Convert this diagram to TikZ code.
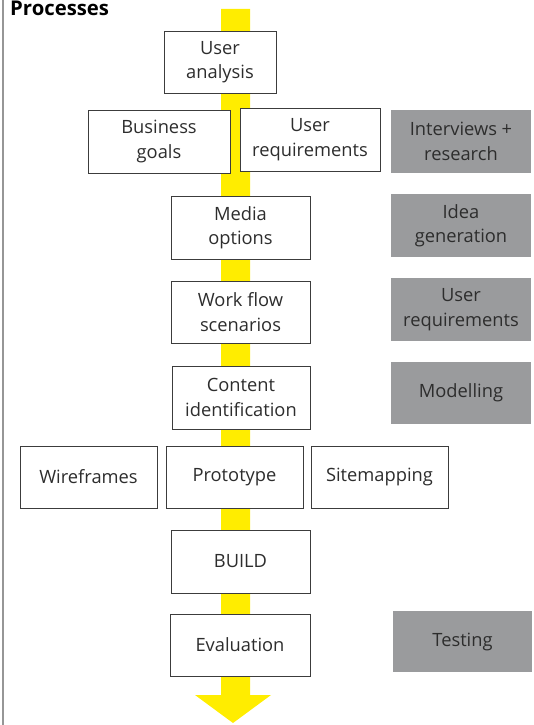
\documentclass[tikz,border=0pt]{standalone}
\usepackage{fontspec}
\setmainfont{Open Sans}
\definecolor{arrowyellow}{RGB}{255,237,0}
\definecolor{boxgrey}{RGB}{154,155,157}
\definecolor{edgegrey}{RGB}{60,60,60}
\definecolor{textgrey}{RGB}{45,45,45}
\definecolor{frameline}{RGB}{150,150,150}
\tikzset{
  stepbox/.style={draw=edgegrey, line width=0.9pt, fill=white, text=textgrey,
    align=center, inner sep=0pt, font=\fontsize{18.3}{24.5}\selectfont},
  greybox/.style={fill=boxgrey, draw=none, text=textgrey,
    align=center, inner sep=0pt, font=\fontsize{18.3}{24.5}\selectfont},
}
\newcommand{\boxat}[6]{\node[#1, minimum width=#4pt, minimum height=#5pt] (#2) at (#3) {#6};}
\begin{document}
\begin{tikzpicture}[x=1pt,y=-1pt]
\useasboundingbox (0,0) rectangle (533,725);
% frame line
\draw[frameline, line width=2pt] (3,0) -- (3,725);
% title
\node[anchor=base west, inner sep=0pt, font=\fontsize{20.3}{22}\selectfont\bfseries, text=black] (title) at (10,16) {Processes};
% yellow arrow
\fill[arrowyellow] (221,9) -- (250,9) -- (250,695) -- (271,695) -- (233,723) -- (195,695) -- (221,695) -- cycle;
% boxes
\boxat{stepbox}{ua}{220,62}{112}{62}{User\\analysis}
\boxat{stepbox}{bg}{159,141.5}{142}{63}{Business\\goals}
\boxat{stepbox}{ur}{310,139.5}{140}{63}{User\\requirements}
\boxat{greybox}{ir}{461,141.5}{140}{63}{Interviews +\\research}
\boxat{stepbox}{mo}{240.5,227.5}{139}{63}{Media\\options}
\boxat{greybox}{ig}{461,225.5}{140}{63}{Idea\\generation}
\boxat{stepbox}{wf}{240.5,312}{139}{62}{Work flow\\scenarios}
\boxat{greybox}{urq}{461,309.5}{140}{63}{User\\requirements}
\boxat{stepbox}{ci}{241,397.5}{138}{63}{Content\\identification}
\boxat{greybox}{mod}{461,393}{140}{62}{Modelling}
\boxat{stepbox}{wire}{88.5,477}{137}{62}{Wireframes}
\boxat{stepbox}{proto}{234.5,477}{137}{62}{Prototype}
\boxat{stepbox}{site}{379.5,477}{137}{62}{Sitemapping}
\boxat{stepbox}{build}{240.5,561.5}{139}{63}{BUILD}
\boxat{stepbox}{eval}{240,645}{140}{62}{Evaluation}
\boxat{greybox}{test}{462.5,641.5}{139}{61}{Testing}
\end{tikzpicture}
\end{document}
